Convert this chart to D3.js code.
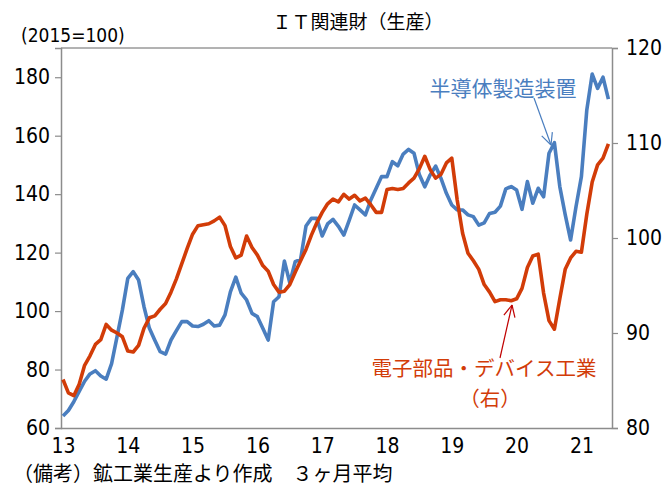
<!DOCTYPE html>
<html>
<head>
<meta charset="utf-8">
<script src="https://cdn.jsdelivr.net/npm/d3@7"></script>
<style>
  body { margin: 0; background: #fff; }
  svg text { font-family: "Liberation Sans Narrow", "DejaVu Sans Condensed", sans-serif; }
  .jp { font-family: "Noto Sans CJK JP", sans-serif; }
</style>
</head>
<body>
<script>
//Data///////////////////////////////////////////////////////////////

// x categories: monthly, 2013-01 .. 2021-06, labelled at each January
const yearLabels = ["13", "14", "15", "16", "17", "18", "19", "20", "21"];

// 半導体製造装置 (left axis, 2015=100, 3-month average)
const semicon = [
  64.1, 66.0, 69.0, 72.5, 76.0, 78.5, 79.6, 77.8, 76.7, 82.0, 91.2, 100.4,
  111.2, 113.5, 110.6, 101.5, 94.1, 90.0, 86.1, 85.3, 90.1, 93.3, 96.4, 96.4,
  94.9, 94.7, 95.5, 96.7, 94.9, 95.2, 98.7, 106.6, 111.6, 106.1, 103.8, 99.2,
  98.1, 94.1, 90.1, 103.2, 104.9, 117.1, 109.7, 116.9, 117.7, 129.1, 131.7, 131.7,
  125.7, 129.8, 131.4, 129.0, 126.0, 131.0, 136.3, 134.6, 132.9, 138.0, 142.0, 146.0,
  146.0, 151.1, 149.7, 153.7, 155.3, 154.0, 146.6, 142.5, 146.6, 149.6, 145.4, 140.3,
  136.3, 134.6, 134.6, 132.9, 132.3, 129.4, 130.2, 133.4, 133.8, 135.9, 141.8, 142.6,
  141.4, 134.8, 144.3, 136.9, 142.0, 139.1, 154.0, 157.6, 142.6, 133.0, 124.3, 135.7,
  146.0, 168.8, 181.1, 176.2, 180.0, 172.5
];

// 電子部品・デバイス工業 (right axis)
const device = [
  85.1, 83.7, 83.4, 84.6, 86.6, 87.6, 88.8, 89.3, 90.9, 90.3, 90.0, 89.6,
  88.1, 88.0, 88.7, 90.5, 91.6, 91.8, 92.5, 93.1, 94.3, 95.7, 97.3, 98.9,
  100.4, 101.3, 101.4, 101.5, 101.8, 102.2, 101.3, 99.1, 97.9, 98.2, 100.2, 99.0,
  98.2, 97.1, 96.5, 95.1, 94.3, 94.4, 95.1, 96.4, 97.6, 98.8, 100.3, 101.6,
  102.7, 103.6, 104.1, 103.8, 104.6, 104.1, 104.5, 103.9, 104.2, 103.5, 102.7, 102.7,
  105.1, 105.2, 105.1, 105.2, 105.8, 106.3, 107.3, 108.6, 107.2, 106.3, 106.7, 107.9,
  108.4, 104.0, 100.5, 98.4, 97.6, 96.7, 95.1, 94.3, 93.3, 93.5, 93.5, 93.4,
  93.6, 94.7, 96.9, 98.1, 98.3, 94.2, 91.3, 90.4, 93.6, 96.7, 97.9, 98.6,
  98.5, 102.5, 105.9, 107.7, 108.4, 109.9
];

const leftTicks = [60, 80, 100, 120, 140, 160, 180];
const rightTicks = [80, 90, 100, 110, 120];

//Layout/////////////////////////////////////////////////////////////

const W = 668, H = 498;
const plot = { left: 61, right: 612, top: 48, bottom: 428 };
const blue = "#4a7ebf", red = "#d23c08", axisGray = "#8c8c8c";

const svg = d3.select("body").append("svg")
    .attr("width", W)
    .attr("height", H);

const x = d3.scaleLinear()
    .domain([0, semicon.length - 1])
    .range([63, 608.4]);

const yL = d3.scaleLinear().domain([60, 190]).range([plot.bottom, plot.top]);
const yR = d3.scaleLinear().domain([80, 120]).range([plot.bottom, plot.top]);

// frame: top border
svg.append("line")
    .attr("x1", plot.left).attr("x2", plot.right)
    .attr("y1", plot.top).attr("y2", plot.top)
    .attr("stroke", "#666").attr("stroke-width", 1);

// left axis
const gL = svg.append("g")
    .attr("transform", "translate(" + plot.left + ",0)")
    .call(d3.axisLeft(yL).tickValues(leftTicks).tickSize(6).tickPadding(5));

// right axis
const gR = svg.append("g")
    .attr("transform", "translate(" + plot.right + ",0)")
    .call(d3.axisRight(yR).tickValues(rightTicks).tickSize(6).tickPadding(8));

// bottom axis (no ticks)
const xTicks = yearLabels.map((d, i) => i * 12);
const gB = svg.append("g")
    .attr("transform", "translate(0," + plot.bottom + ")")
    .call(d3.axisBottom(x).tickValues(xTicks).tickSize(0).tickPadding(10)
        .tickFormat((d, i) => yearLabels[i]));
gB.select(".domain").attr("d", "M" + plot.left + ",0.5H" + plot.right);

[gL, gR, gB].forEach(g => {
  g.selectAll(".domain").attr("stroke", axisGray).attr("stroke-width", 1.5);
  g.selectAll(".tick line").attr("stroke", axisGray).attr("stroke-width", 1.2);
  g.selectAll(".tick text").attr("fill", "#000").style("font-size", "21px");
});

// lines
const lineL = d3.line().x((d, i) => x(i)).y(d => yL(d));
const lineR = d3.line().x((d, i) => x(i)).y(d => yR(d));

svg.append("path")
    .datum(semicon)
    .attr("d", lineL)
    .attr("fill", "none")
    .attr("stroke", blue)
    .attr("stroke-width", 3.6)
    .attr("stroke-linejoin", "round");

svg.append("path")
    .datum(device)
    .attr("d", lineR)
    .attr("fill", "none")
    .attr("stroke", red)
    .attr("stroke-width", 3.6)
    .attr("stroke-linejoin", "round");

// texts
svg.append("text").attr("class", "jp")
    .attr("x", 358).attr("y", 29)
    .attr("text-anchor", "middle")
    .style("font-size", "19px")
    .text("ＩＴ関連財（生産）");

svg.append("text")
    .attr("x", 21).attr("y", 42)
    .style("font-size", "19px")
    .text("(2015=100)");

svg.append("text").attr("class", "jp")
    .attr("x", 13).attr("y", 481)
    .style("font-size", "20px")
    .text("（備考）鉱工業生産より作成　３ヶ月平均");

// series annotations with arrows
function arrow(x1, y1, x2, y2, color) {
  const ang = Math.atan2(y2 - y1, x2 - x1), len = 13, spread = 0.45;
  svg.append("line")
      .attr("x1", x1).attr("y1", y1).attr("x2", x2).attr("y2", y2)
      .attr("stroke", color).attr("stroke-width", 1.2);
  [-spread, spread].forEach(s => {
    svg.append("line")
        .attr("x1", x2).attr("y1", y2)
        .attr("x2", x2 - len * Math.cos(ang + s))
        .attr("y2", y2 - len * Math.sin(ang + s))
        .attr("stroke", color).attr("stroke-width", 1.2);
  });
}

svg.append("text").attr("class", "jp")
    .attr("x", 503).attr("y", 96)
    .attr("text-anchor", "middle")
    .attr("fill", blue)
    .style("font-size", "21px")
    .text("半導体製造装置");
arrow(534, 98, 551, 145, blue);

svg.append("text").attr("class", "jp")
    .attr("x", 484).attr("y", 376)
    .attr("text-anchor", "middle")
    .attr("fill", red)
    .style("font-size", "20.5px")
    .text("電子部品・デバイス工業");
svg.append("text").attr("class", "jp")
    .attr("x", 490).attr("y", 406)
    .attr("text-anchor", "middle")
    .attr("fill", red)
    .style("font-size", "20.5px")
    .text("（右）");
arrow(500, 358, 512, 305, "#c00000");
</script>
</body>
</html>
